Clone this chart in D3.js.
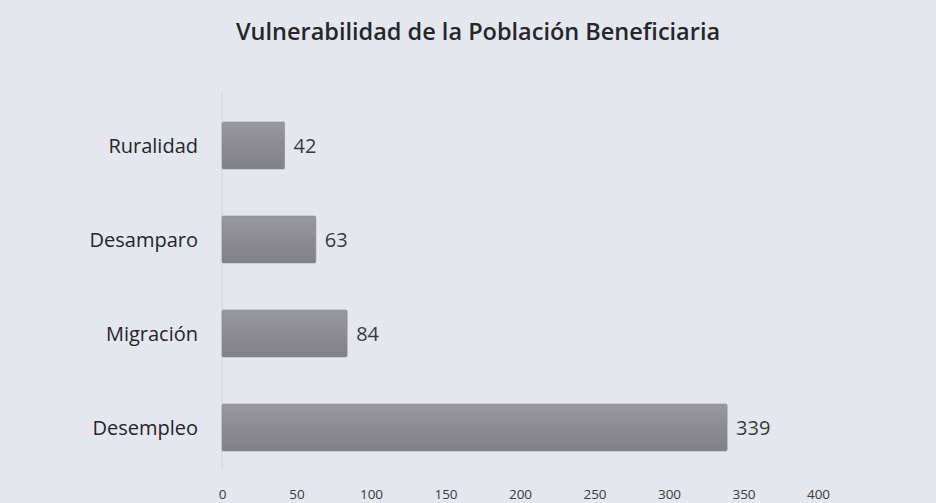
<!DOCTYPE html>
<html>
<head>
<meta charset="utf-8">
<script src="https://cdn.jsdelivr.net/npm/d3@7"></script>
<style>
  html, body { margin: 0; padding: 0; background: #e5e7ee; }
  svg { display: block; }
</style>
</head>
<body>
<div class="chart"></div>
<script>
// data (top to bottom)
const categories = ['Ruralidad', 'Desamparo', 'Migración', 'Desempleo'];
const values = [42, 63, 84, 339];
const xTicks = [0, 50, 100, 150, 200, 250, 300, 350, 400];
const title = 'Vulnerabilidad de la Población Beneficiaria';

const W = 936, H = 503;

const svg = d3.select('.chart')
  .append('svg')
  .attr('width', W)
  .attr('height', H);

// background like the scanned paper
svg.append('rect')
  .attr('width', W)
  .attr('height', H)
  .attr('fill', '#e5e7ee');

const defs = svg.append('defs');
const grad = defs.append('linearGradient')
  .attr('id', 'barFill')
  .attr('x1', 0).attr('y1', 0)
  .attr('x2', 0).attr('y2', 1);
grad.append('stop').attr('offset', '0%').attr('stop-color', '#9a98a0');
grad.append('stop').attr('offset', '50%').attr('stop-color', '#8c8a92');
grad.append('stop').attr('offset', '100%').attr('stop-color', '#828088');

const x = d3.scaleLinear()
  .domain([0, 400])
  .range([222, 818]);

const y = d3.scaleBand()
  .domain(categories)
  .range([98.5, 474.5])
  .paddingInner(0.5)
  .paddingOuter(0.25);

// faint vertical axis line
svg.append('line')
  .attr('x1', x(0)).attr('x2', x(0))
  .attr('y1', 92).attr('y2', 470)
  .attr('stroke', '#cfd1d9')
  .attr('stroke-width', 1);

// bars
svg.selectAll('rect.bar')
  .data(values)
  .enter()
  .append('rect')
  .attr('class', 'bar')
  .attr('x', x(0))
  .attr('y', (d, i) => y(categories[i]))
  .attr('width', d => x(d) - x(0))
  .attr('height', y.bandwidth())
  .attr('rx', 1.5)
  .attr('fill', 'url(#barFill)')
  .attr('stroke', '#8a8890')
  .attr('stroke-width', 0.6);

// value labels
svg.selectAll('text.val')
  .data(values)
  .enter()
  .append('text')
  .attr('class', 'val')
  .attr('x', d => x(d) + 9)
  .attr('y', (d, i) => y(categories[i]) + y.bandwidth() / 2)
  .attr('dy', '0.35em')
  .attr('font-family', 'Open Sans, sans-serif')
  .attr('font-size', 20)
  .attr('fill', '#3a3a40')
  .text(d => d);

// category labels
svg.selectAll('text.cat')
  .data(categories)
  .enter()
  .append('text')
  .attr('class', 'cat')
  .attr('x', 198)
  .attr('y', d => y(d) + y.bandwidth() / 2)
  .attr('dy', '0.35em')
  .attr('text-anchor', 'end')
  .attr('font-family', 'Open Sans, sans-serif')
  .attr('font-size', 20)
  .attr('fill', '#25252b')
  .text(d => d);

// x axis, labels only
const xAxis = svg.append('g')
  .attr('transform', 'translate(0, 484)')
  .call(d3.axisBottom(x).tickValues(xTicks).tickSize(0).tickPadding(5));
xAxis.select('.domain').remove();
xAxis.selectAll('text')
  .attr('font-family', 'Open Sans, sans-serif')
  .attr('font-size', 13.5)
  .attr('fill', '#3a3a40');

// title
svg.append('text')
  .attr('x', 478)
  .attr('y', 40)
  .attr('text-anchor', 'middle')
  .attr('font-family', 'Open Sans, sans-serif')
  .attr('font-size', 23.5)
  .attr('font-weight', 600)
  .attr('fill', '#26262c')
  .text(title);
</script>
</body>
</html>
